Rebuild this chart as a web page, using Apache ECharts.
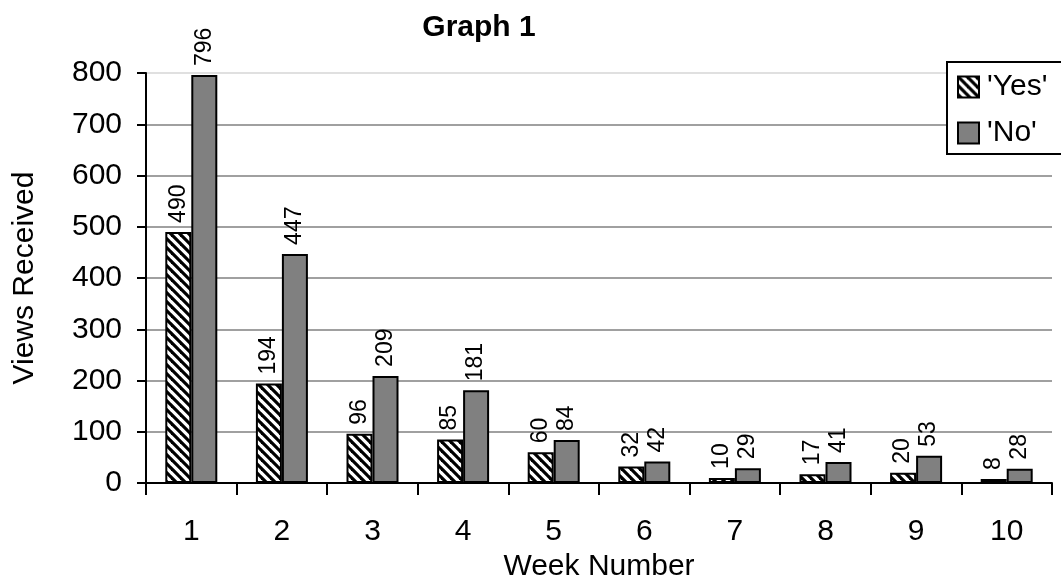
<!DOCTYPE html>
<html>
<head>
<meta charset="utf-8">
<script src="https://cdn.jsdelivr.net/npm/echarts@6/dist/echarts.min.js"></script>
<style>
html,body{margin:0;padding:0;background:#fff;}
#chart{width:1061px;height:581px;}
</style>
</head>
<body>
<div id="chart"></div>
<script>
var categories = ['1','2','3','4','5','6','7','8','9','10'];
var yesValues = [490,194,96,85,60,32,10,17,20,8];
var noValues = [796,447,209,181,84,42,29,41,53,28];
var seriesNames = ["'Yes'", "'No'"];

function hatch() {
  var s = 9;
  var c = document.createElement('canvas');
  c.width = s; c.height = s;
  var ctx = c.getContext('2d');
  ctx.fillStyle = '#fff';
  ctx.fillRect(0,0,s,s);
  ctx.strokeStyle = '#000';
  ctx.lineWidth = 3.2;
  for (var k = -1; k <= 1; k++) {
    ctx.beginPath();
    ctx.moveTo(-2, -2 + k*s);
    ctx.lineTo(s+2, s+2 + k*s);
    ctx.stroke();
  }
  return c;
}

var chart = echarts.init(document.getElementById('chart'));
var font = 'Liberation Sans, Arial, sans-serif';
var labelCfg = {
  show: true, position: 'top', rotate: 90, distance: 9,
  align: 'left', verticalAlign: 'middle',
  fontSize: 23, color: '#000', fontFamily: font
};
chart.setOption({
  animation: false,
  backgroundColor: '#fff',
  title: {
    text: 'Graph 1', left: 474, top: 8, textAlign: 'center',
    textStyle: {fontSize: 30, fontWeight: 'bold', color: '#000', fontFamily: font}
  },
  legend: {
    orient: 'vertical', left: 947, top: 62,
    data: seriesNames,
    icon: 'rect', itemWidth: 21, itemHeight: 21, itemGap: 16,
    padding: [10, 40, 6, 10],
    borderColor: '#000', borderWidth: 2, backgroundColor: '#fff',
    textStyle: {fontSize: 30, color: '#000', fontFamily: font, padding: [0,0,0,3]}
  },
  grid: {left: 146, right: 9, top: 73, bottom: 98, containLabel: false, outerBoundsMode: 'none'},
  xAxis: {
    type: 'category', data: categories,
    axisLine: {lineStyle: {color: '#000', width: 2}},
    axisTick: {show: true, length: 12, lineStyle: {color: '#000', width: 2}},
    axisLabel: {fontSize: 30, color: '#000', fontFamily: font, margin: 34},
    name: 'Week Number', nameLocation: 'middle', nameGap: 67,
    nameTextStyle: {fontSize: 30, color: '#000', fontFamily: font}
  },
  yAxis: {
    type: 'value', min: 0, max: 800, interval: 100,
    axisLine: {show: true, lineStyle: {color: '#000', width: 2}},
    axisTick: {show: true, length: 9, lineStyle: {color: '#000', width: 2}},
    axisLabel: {fontSize: 30, color: '#000', fontFamily: font, margin: 24},
    splitLine: {show: true, lineStyle: {color: ['#a0a0a0','#a0a0a0','#a0a0a0','#a0a0a0','#a0a0a0','#a0a0a0','#a0a0a0','#a0a0a0','#e0e0e0'], width: 2}},
    name: 'Views Received', nameLocation: 'middle', nameGap: 106, nameRotate: 90,
    nameTextStyle: {fontSize: 30, color: '#000', fontFamily: font}
  },
  series: [
    {
      name: seriesNames[0], type: 'bar', data: yesValues,
      barWidth: 26, barGap: '0%',
      itemStyle: {color: {image: hatch(), repeat: 'repeat'}, borderColor: '#000', borderWidth: 2},
      label: labelCfg
    },
    {
      name: seriesNames[1], type: 'bar', data: noValues,
      barWidth: 26, barGap: '0%',
      itemStyle: {color: '#808080', borderColor: '#000', borderWidth: 2},
      label: labelCfg
    }
  ]
});
</script>
</body>
</html>
